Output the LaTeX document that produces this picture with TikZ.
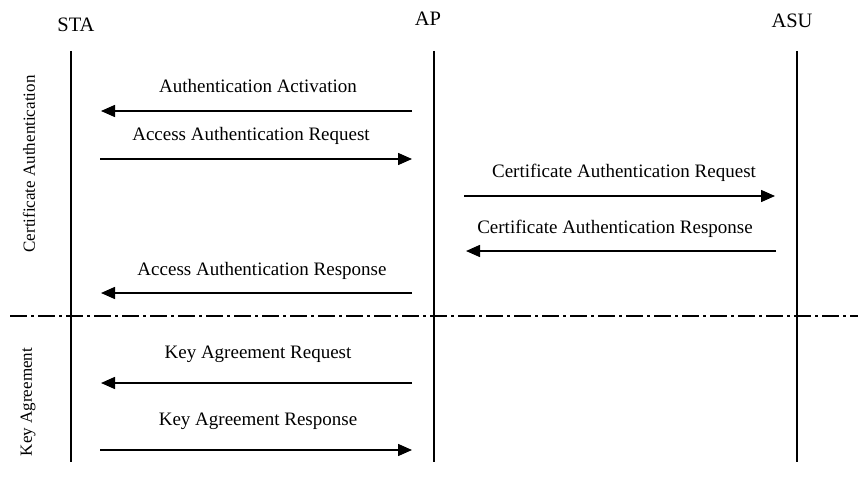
\documentclass[tikz,border=0pt]{standalone}
\usepackage{fontspec}
\setmainfont{Liberation Serif}
\usetikzlibrary{arrows.meta}
\begin{document}
\begin{tikzpicture}[x=1pt,y=-1pt,
  lifeline/.style={line width=1.5pt},
  msg/.style={line width=1.5pt,-{Triangle[length=14pt,width=12pt]}},
  msgtext/.style={font=\fontsize{19}{22}\selectfont, anchor=base, inner sep=0pt},
  actor/.style={font=\fontsize{20.5}{24}\selectfont, anchor=base, inner sep=0pt},
  phase/.style={font=\fontsize{17}{20}\selectfont, rotate=90, inner sep=0pt},
  divider/.style={line width=2.2pt, dash pattern=on 17pt off 4pt on 3pt off 4pt}]
\useasboundingbox (0,0) rectangle (858,489);

% participants
\node[actor] (sta) at (76,32) {STA};
\node[actor] (ap)  at (428,26) {AP};
\node[actor] (asu) at (792,28) {ASU};

% lifelines
\coordinate (staTop) at (71,51);  \coordinate (staBot) at (71,462);
\coordinate (apTop)  at (434,51); \coordinate (apBot)  at (434,462);
\coordinate (asuTop) at (797,51); \coordinate (asuBot) at (797,462);
\draw[lifeline] (staTop) -- (staBot);
\draw[lifeline] (apTop) -- (apBot);
\draw[lifeline] (asuTop) -- (asuBot);

% phase separator
\coordinate (divL) at (10,316);
\coordinate (divR) at (858,316);
\draw[divider] (divL) -- (divR);

% phase labels
\node[phase] (certphase) at (29,164) {Certificate Authentication};
\node[phase] (keyphase)  at (28,402) {Key Agreement};

% message end points
\coordinate (m1a) at (412,111); \coordinate (m1b) at (101,111);
\coordinate (m2a) at (100,159); \coordinate (m2b) at (412,159);
\coordinate (m3a) at (464,196); \coordinate (m3b) at (775,196);
\coordinate (m4a) at (776,251); \coordinate (m4b) at (466,251);
\coordinate (m5a) at (412,293); \coordinate (m5b) at (101,293);
\coordinate (m6a) at (412,383); \coordinate (m6b) at (101,383);
\coordinate (m7a) at (100,450); \coordinate (m7b) at (412,450);

% messages
\draw[msg] (m1a) -- (m1b);
\node[msgtext] (t1) at (258,93) {Authentication Activation};
\draw[msg] (m2a) -- (m2b);
\node[msgtext] (t2) at (251,141) {Access Authentication Request};
\draw[msg] (m3a) -- (m3b);
\node[msgtext] (t3) at (624,178) {Certificate Authentication Request};
\draw[msg] (m4a) -- (m4b);
\node[msgtext] (t4) at (615,233) {Certificate Authentication Response};
\draw[msg] (m5a) -- (m5b);
\node[msgtext] (t5) at (262,275) {Access Authentication Response};
\draw[msg] (m6a) -- (m6b);
\node[msgtext] (t6) at (258,358) {Key Agreement Request};
\draw[msg] (m7a) -- (m7b);
\node[msgtext] (t7) at (258,425) {Key Agreement Response};
\end{tikzpicture}
\end{document}
